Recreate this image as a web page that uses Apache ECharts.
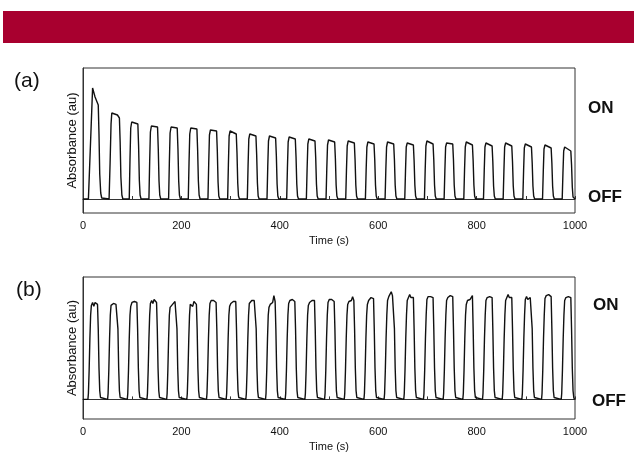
<!DOCTYPE html>
<html><head><meta charset="utf-8">
<script src="https://cdn.jsdelivr.net/npm/echarts@6/dist/echarts.min.js"></script>
<style>html,body{margin:0;padding:0;background:#fff}#c{width:634px;height:453px}</style>
</head><body><div id="c"></div>
<script>
// ---- data ----
const xTickLabels = [0, 200, 400, 600, 800, 1000];
const panelLabels = ['(a)', '(b)'];
const stateLabels = ['ON', 'OFF'];

// Panel (a): each pulse as [time (s), absorbance (arb.)] points
const pulsesA = [
  [[11,0],[19.5,111],[24.5,102],[31,94],[32.5,65],[34,25],[36,6],[38,1],[40,0]],
  [[53,0],[55,35],[57,75],[58.5,86],[61,88],[70,84],[74,81],[75.5,57],[77,22],[79,4],[81,0]],
  [[94,0],[95.5,39],[97,71],[99,77],[111.5,75],[113,53],[114.5,19],[116,4],[118,0]],
  [[134,0],[135.5,37],[137,67],[139,73],[151.5,72],[153,50],[154.5,18],[156,4],[158,0]],
  [[174,0],[175.5,36],[177,66],[179,72],[191.5,71],[193,50],[194.5,18],[196,4],[198,0]],
  [[214,0],[215.5,36],[217,65],[219,71],[231.5,70],[233,49],[234.5,18],[236,4],[238,0]],
  [[254,0],[255.5,35],[257,64],[259,69],[271.5,68],[273,48],[274.5,17],[276,3],[278,0]],
  [[294,0],[295.5,34],[297,63],[299,68],[311.5,65],[313,46],[314.5,16],[316,3],[318,0]],
  [[334,0],[335.5,33],[337,60],[339,65],[351.5,63],[353,44],[354.5,16],[356,3],[358,0]],
  [[374,0],[375.5,32],[377,58],[379,63],[391.5,61],[393,43],[394.5,15],[396,3],[398,0]],
  [[414,0],[415.5,31],[417,57],[419,62],[431.5,60],[433,42],[434.5,15],[436,3],[438,0]],
  [[454,0],[455.5,30],[457,55],[459,60],[471.5,58],[473,41],[474.5,15],[476,3],[478,0]],
  [[494,0],[495.5,30],[497,54],[499,59],[511.5,57],[513,40],[514.5,14],[516,3],[518,0]],
  [[534,0],[535.5,29],[537,53],[539,58],[551.5,56],[553,39],[554.5,14],[556,3],[558,0]],
  [[574,0],[575.5,29],[577,52],[579,57],[591.5,55],[593,39],[594.5,14],[596,3],[598,0]],
  [[614,0],[615.5,29],[617,52],[619,57],[631.5,55],[633,39],[634.5,14],[636,3],[638,0]],
  [[654,0],[655.5,28],[657,52],[659,56],[671.5,54],[673,38],[674.5,14],[676,3],[678,0]],
  [[694,0],[695.5,29],[697,53],[699,58],[711.5,55],[713,39],[714.5,14],[716,3],[718,0]],
  [[734,0],[735.5,28],[737,52],[739,56],[751.5,55],[753,39],[754.5,14],[756,3],[758,0]],
  [[774,0],[775.5,29],[777,52],[779,57],[791.5,54],[793,38],[794.5,14],[796,3],[798,0]],
  [[814,0],[815.5,28],[817,52],[819,56],[831.5,53],[833,37],[834.5,13],[836,3],[838,0]],
  [[854,0],[855.5,28],[857,52],[859,56],[871.5,53],[873,37],[874.5,13],[876,3],[878,0]],
  [[894,0],[895.5,28],[897,51],[899,55],[911.5,52],[913,36],[914.5,13],[916,3],[918,0]],
  [[934,0],[935.5,27],[937,50],[939,54],[951.5,51],[953,36],[954.5,13],[956,3],[958,0]],
  [[974,0],[975.5,26],[977,48],[979,52],[991.5,48],[993,34],[994.5,12],[996,2],[998,0]]
];

// Panel (b): pulse onset times (s)
const onsetB = [10, 50, 90, 130, 170, 211, 251, 291, 331, 371, 411, 451, 491,
                531, 571, 612, 652, 692, 732, 772, 812, 852, 892, 932, 972];
// rising edge (offset s after onset, value)
const riseOffsetsB = [0, 1, 2.5, 4, 5.5];
const riseValuesB  = [0, 6, 30, 62, 86];
// plateau samples for each pulse (offsets s after onset)
const plateauOffsetsB = [7, 9.5, 12, 14.5, 17, 19.5];
const plateauB = [
  [96, 99, 95, 99, 99, 97],
  [96, 98, 98, 98, 97, 97],
  [95, 99, 100, 100, 101, 99],
  [98, 101, 98, 102, 101, 99],
  [94, 96, 97, 98, 100, 99],
  [97, 99, 95, 100, 99, 97],
  [98, 101, 102, 101, 100, 99],
  [95, 98, 99, 100, 101, 100],
  [98, 100, 101, 99, 101, 100],
  [94, 97, 98, 99, 106, 100],
  [98, 101, 102, 102, 101, 100],
  [96, 99, 100, 101, 103, 101],
  [99, 102, 103, 102, 102, 100],
  [97, 100, 101, 101, 105, 101],
  [97, 101, 103, 104, 106, 103],
  [101, 105, 107, 110, 106, 104],
  [101, 104, 107, 104, 105, 104],
  [102, 105, 107, 105, 105, 104],
  [101, 104, 105, 106, 108, 105],
  [97, 101, 102, 102, 104, 106],
  [101, 104, 105, 105, 106, 104],
  [101, 104, 107, 104, 106, 104],
  [102, 105, 102, 104, 104, 103],
  [103, 106, 107, 107, 106, 105],
  [101, 104, 105, 105, 105, 104]
];
// falling edge (offset s after onset, value)
const fallOffsetsB = [21, 22.5, 24, 25.5, 27];
const fallValuesB  = [72, 32, 9, 2, 0];

// ---- build series ----
const traceA = [[0, 0]];
pulsesA.forEach(p => p.forEach(pt => traceA.push(pt)));
traceA.push([1000, 0]);

const traceB = [[0, 0]];
onsetB.forEach((t0, i) => {
  riseOffsetsB.forEach((o, j) => traceB.push([t0 + o, riseValuesB[j]]));
  plateauOffsetsB.forEach((o, j) => traceB.push([t0 + o, plateauB[i][j]]));
  fallOffsetsB.forEach((o, j) => traceB.push([t0 + o, fallValuesB[j]]));
});
traceB.push([1000, 0]);

const FONT = 'Liberation Sans, Arial, Helvetica, sans-serif';
const AX = '#333';

function xAx(gi) {
  return {
    type: 'value', gridIndex: gi, min: 0, max: 1000, interval: 100,
    name: 'Time (s)', nameLocation: 'middle', nameGap: 22,
    nameTextStyle: { fontFamily: FONT, fontSize: 11, color: '#111' },
    axisLine: { show: true, lineStyle: { color: AX, width: 1 } },
    axisTick: { show: true, inside: true, length: 3, lineStyle: { color: AX } },
    axisLabel: { margin: 7, fontFamily: FONT, fontSize: 11, color: '#111',
      formatter: v => xTickLabels.includes(v) ? String(v) : '' },
    splitLine: { show: false }
  };
}
function yAx(gi, mn, mx) {
  return {
    type: 'value', gridIndex: gi, min: mn, max: mx,
    name: 'Absorbance (au)', nameLocation: 'middle', nameGap: 4,
    nameTextStyle: { fontFamily: FONT, fontSize: 13, color: '#111' },
    axisLine: { show: true, lineStyle: { color: AX, width: 1 } },
    axisTick: { show: false }, axisLabel: { show: false },
    splitLine: { show: false }
  };
}

const chart = echarts.init(document.getElementById('c'), null, { renderer: 'canvas' });
chart.setOption({
  animation: false,
  backgroundColor: '#fff',
  grid: [
    { left: 83, top: 68, width: 492, height: 145, show: true, borderColor: AX, borderWidth: 1 },
    { left: 83, top: 277, width: 492, height: 145, show: true, borderColor: AX, borderWidth: 1 }
  ],
  xAxis: [xAx(0), xAx(1)],
  yAxis: [yAx(0, -14, 131), yAx(1, -20, 125)],
  series: [
    { type: 'line', xAxisIndex: 0, yAxisIndex: 0, data: traceA, showSymbol: false,
      lineStyle: { color: '#111', width: 1.4 } },
    { type: 'line', xAxisIndex: 1, yAxisIndex: 1, data: traceB, showSymbol: false,
      lineStyle: { color: '#111', width: 1.4 } }
  ],
  graphic: [
    { type: 'rect', shape: { x: 3, y: 11, width: 631, height: 32 }, style: { fill: '#A8002F' } },
    { type: 'text', x: 14, y: 81, style: { text: panelLabels[0], font: '21px ' + FONT, fill: '#111', textVerticalAlign: 'middle' } },
    { type: 'text', x: 16, y: 290, style: { text: panelLabels[1], font: '21px ' + FONT, fill: '#111', textVerticalAlign: 'middle' } },
    { type: 'text', x: 588, y: 108, style: { text: stateLabels[0], font: 'bold 17px ' + FONT, fill: '#111', textVerticalAlign: 'middle' } },
    { type: 'text', x: 588, y: 197, style: { text: stateLabels[1], font: 'bold 17px ' + FONT, fill: '#111', textVerticalAlign: 'middle' } },
    { type: 'text', x: 593, y: 305, style: { text: stateLabels[0], font: 'bold 17px ' + FONT, fill: '#111', textVerticalAlign: 'middle' } },
    { type: 'text', x: 592, y: 401, style: { text: stateLabels[1], font: 'bold 17px ' + FONT, fill: '#111', textVerticalAlign: 'middle' } }
  ]
});
</script></body></html>
